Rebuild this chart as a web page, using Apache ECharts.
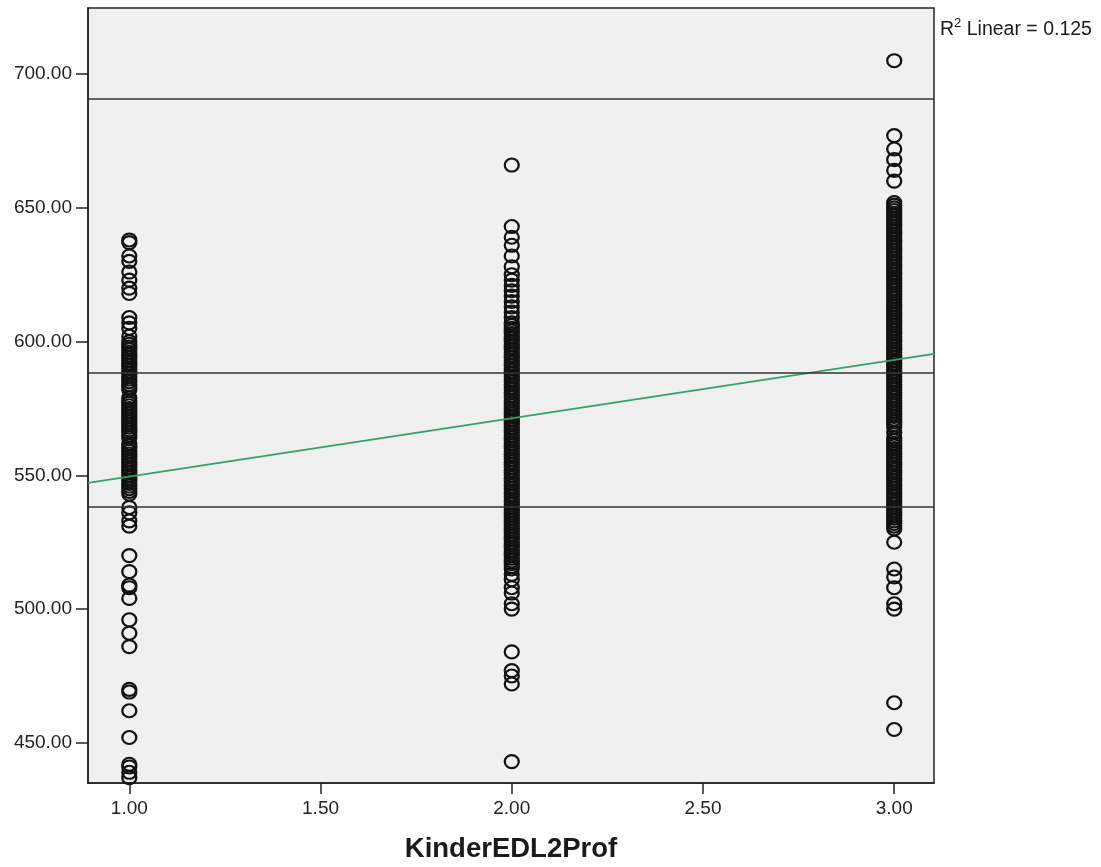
<!DOCTYPE html>
<html>
<head>
<meta charset="utf-8">
<script src="https://cdn.jsdelivr.net/npm/echarts@6/dist/echarts.min.js"></script>
<style>
html,body{margin:0;padding:0;background:#fff;}
#chart{width:1101px;height:867px;}
</style>
</head>
<body>
<div id="chart"></div>
<script>
// ---- data ----
var xTicks = [1.00, 1.50, 2.00, 2.50, 3.00];
var yTicks = [450, 500, 550, 600, 650, 700];
var xRange = [0.892, 3.104];
var yRange = [435.0, 724.7];

var group1 = [638, 637, 632, 630, 626, 623, 620, 618, 609, 607, 605, 602, 600, 599, 598, 597, 596, 595, 594,
  593, 592, 591, 590, 589, 588, 587, 586, 585, 584, 583, 582, 579, 578, 577, 576, 575, 574, 573, 572, 571, 570,
  569, 568, 567, 566, 565, 564, 562, 561, 560, 559, 558, 557, 556, 555, 554, 553, 552, 551, 550, 549, 548, 547,
  546, 545, 544, 543, 538, 536, 533, 531, 520, 514, 509, 508, 504, 496, 491, 486, 470, 469, 462, 452, 442, 441,
  439, 437];
var group2 = [666, 643, 639, 636, 632, 628, 625, 623, 621, 619, 617, 615, 613, 611, 609, 607, 606, 605, 604,
  603, 602, 601, 600, 599, 598, 597, 596, 595, 594, 593, 592, 591, 590, 589, 588, 587, 586, 585, 584, 583, 582,
  581, 580, 579, 578, 577, 576, 575, 574, 573, 572, 571, 570, 569, 568, 567, 566, 565, 564, 563, 562, 561, 560,
  559, 558, 557, 556, 555, 554, 553, 552, 551, 550, 549, 548, 547, 546, 545, 544, 543, 542, 541, 540, 539, 538,
  537, 536, 535, 534, 533, 532, 531, 530, 529, 528, 527, 526, 525, 524, 523, 522, 521, 520, 519, 518, 517, 516,
  515, 513, 511, 508, 506, 502, 500, 484, 477, 475, 472, 443];
var group3 = [705, 677, 672, 668, 664, 660, 652, 651, 650, 649, 648, 647, 646, 645, 644, 643, 642, 641, 640,
  639, 638, 637, 636, 635, 634, 633, 632, 631, 630, 629, 628, 627, 626, 625, 624, 623, 622, 621, 620, 619, 618,
  617, 616, 615, 614, 613, 612, 611, 610, 609, 608, 607, 606, 605, 604, 603, 602, 601, 600, 599, 598, 597, 596,
  595, 594, 593, 592, 591, 590, 589, 588, 587, 586, 585, 584, 583, 582, 581, 580, 579, 578, 577, 576, 575, 574,
  573, 572, 571, 570, 569, 568, 566, 564, 563, 562, 561, 560, 559, 558, 557, 556, 555, 554, 553, 552, 551, 550,
  549, 548, 547, 546, 545, 544, 543, 542, 541, 540, 539, 538, 537, 536, 535, 534, 533, 532, 531, 530, 525, 515,
  512, 508, 502, 500, 465, 455];
var groupX = [1, 2, 3];

var refLines = [538.2, 588.3, 690.8];
var fitX = [0.892, 3.104];
var fitY = [547.2, 595.4];
var rSquared = '0.125';
var xName = 'KinderEDL2Prof';

// ---- build ----
var FONT = '"Liberation Sans", Arial, sans-serif';
var points = [];
[group1, group2, group3].forEach(function (g, i) {
  g.forEach(function (v) { points.push([groupX[i], v]); });
});
var fitData = fitX.map(function (x, i) { return [x, fitY[i]]; });

var chart = echarts.init(document.getElementById('chart'), null, {renderer: 'canvas'});
chart.setOption({
  animation: false,
  backgroundColor: '#ffffff',
  title: {
    text: '{a|R}{b|2}{a| Linear = ' + rSquared + '}',
    left: 935, top: 12,
    textStyle: {
      fontWeight: 'normal',
      rich: {
        a: {fontSize: 19.5, fontWeight: 'normal', fontFamily: FONT, color: '#1a1a1a', lineHeight: 23, verticalAlign: 'bottom'},
        b: {fontSize: 13, fontWeight: 'normal', fontFamily: FONT, color: '#1a1a1a', lineHeight: 13, verticalAlign: 'top'}
      }
    }
  },
  grid: {
    left: 88, top: 8, right: 167, bottom: 84,
    outerBoundsMode: 'none', containLabel: false,
    show: true, backgroundColor: '#f0f0f0', borderColor: '#222', borderWidth: 1.5
  },
  xAxis: {
    type: 'value', min: xRange[0], max: xRange[1],
    name: xName, nameLocation: 'middle', nameGap: 52,
    nameTextStyle: {fontSize: 27.5, fontWeight: 'bold', fontFamily: FONT, color: '#1a1a1a'},
    axisLine: {show: true, lineStyle: {color: '#222', width: 1.5}},
    axisTick: {show: true, length: 11, customValues: xTicks, lineStyle: {color: '#222', width: 1.5}},
    axisLabel: {customValues: xTicks, margin: 16, fontSize: 19, fontFamily: FONT, color: '#222',
      formatter: function (v) { return v.toFixed(2); }},
    splitLine: {show: false}
  },
  yAxis: {
    type: 'value', min: yRange[0], max: yRange[1],
    axisLine: {show: true, lineStyle: {color: '#222', width: 1.5}},
    axisTick: {show: true, length: 12, customValues: yTicks, lineStyle: {color: '#222', width: 1.5}},
    axisLabel: {customValues: yTicks, margin: 16, fontSize: 19, fontFamily: FONT, color: '#222',
      formatter: function (v) { return v.toFixed(2); }},
    splitLine: {show: false}
  },
  series: [
    {
      type: 'line', data: [], silent: true,
      markLine: {
        silent: true, symbol: ['none', 'none'], label: {show: false},
        lineStyle: {color: '#333', width: 1.5, type: 'solid'},
        data: refLines.map(function (v) { return {yAxis: v}; })
      }
    },
    {
      type: 'scatter', data: points, symbol: 'circle', symbolSize: [14, 13],
      itemStyle: {color: 'rgba(0,0,0,0)', borderColor: '#111', borderWidth: 2.2, opacity: 1},
      z: 3
    },
    {
      type: 'line', data: fitData, symbol: 'none', silent: true,
      lineStyle: {color: '#34a06c', width: 1.6}, z: 4
    }
  ]
});
</script>
</body>
</html>
